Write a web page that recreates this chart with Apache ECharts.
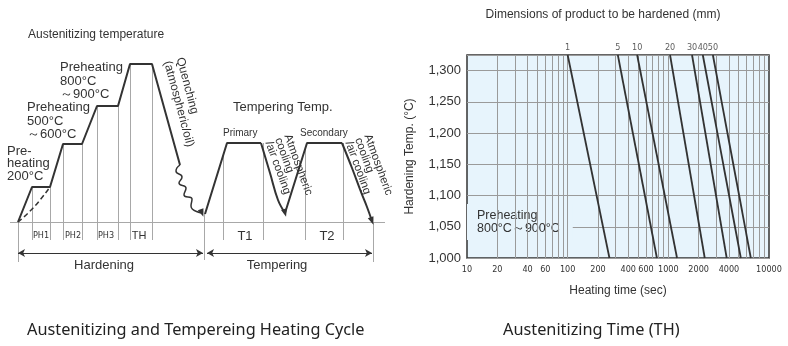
<!DOCTYPE html>
<html>
<head>
<meta charset="utf-8">
<script src="https://cdn.jsdelivr.net/npm/echarts@6/dist/echarts.min.js"></script>
<style>
html,body{margin:0;padding:0;background:#fff}
#chart{width:788px;height:346px}
</style>
</head>
<body>
<div id="chart"></div>
<script>
// ---------- Heating cycle schematic (left panel) ----------
// Schematic units: x = elapsed time, y = temperature height above room temperature.
const hardeningPath = [[0,0],[14,35],[32,35],[45,78],[64,78],[79,116],[100,116],[112,158],[134,158],[162,57]];
const quenchWave = [[162,57],[158,51],[164,45],[161,39],[168,34],[166,27],[174,23],[173,16],[184,9]];
const slowHeatPath = [[0,0],[16,15],[32,35]];
const primaryHeat = [[187,8],[209,79],[243,79]];
const primaryCooling = [[243,79],[252,49],[260,22],[267,9]];
const secondaryHeat = [[267,9],[289,79],[324,79]];
const secondaryCooling = [[324,79],[334,54],[343,30],[349,15],[354,1]];
// phase boundaries: [time, from level, to level]
const phaseGuides = [[14,35,-18],[32,35,-18],[45,78,-18],[64,78,-18],[79,116,-18],[100,116,-18],
  [112,158,-18],[134,158,-18],[0,0,-40],[186,9,-38],[205,66,-18],[245,79,-18],[287,73,-18],[325,79,-18],[355,0,-40]];
const stageSpans = [[0,185],[189,354]];
const stageLevel = -31;
const baseSpan = [-8,367];

// ---------- Austenitizing time chart (right panel) ----------
const sizes = [1, 5, 10, 20, 30, 40, 50];                       // product dimension, mm
const timeAtTop = [100, 315, 490, 1040, 1720, 2200, 2770];      // sec at 1325 °C
const timeAtBase = [260, 770, 1220, 2300, 3800, 5250, 6600];    // sec at 1000 °C
const tempTop = 1325, tempBase = 1000;
const timeTicks = [10, 20, 40, 60, 100, 200, 400, 600, 1000, 2000, 4000, 10000];
const timeGrid = [20,30,40,50,60,70,80,90,100,200,300,400,500,600,700,800,900,1000,
  2000,3000,4000,5000,6000,7000,8000,9000];

const FONT = '"Liberation Sans", Arial, sans-serif';
const NARROW = '"Liberation Sans Narrow", "DejaVu Sans Condensed", "Liberation Sans", sans-serif';
const INK = '#333';
const PLOT_BG = '#e7f4fc';

function pathSeries(data, extra) {
  return Object.assign({
    type: 'line', xAxisIndex: 0, yAxisIndex: 0, data: data, symbol: 'none',
    lineStyle: { color: INK, width: 2 }, silent: true, z: 5
  }, extra || {});
}
function withArrow(data, rot) {
  const out = data.slice(0, -1);
  out.push({ value: data[data.length - 1], symbol: 'triangle', symbolSize: [6, 8], symbolRotate: rot,
    itemStyle: { color: INK } });
  return out;
}

function txt(text, x, y, size, opts) {
  const o = opts || {};
  const style = {
    text: text, fill: o.color || INK,
    font: (o.weight ? o.weight + ' ' : '') + size + 'px ' + (o.family || FONT),
    align: o.align || 'left', textAlign: o.align || 'left',
    verticalAlign: o.va || 'middle', textVerticalAlign: o.va || 'middle',
    lineHeight: o.lh || size + 1
  };
  if (o.bg) { style.backgroundColor = o.bg; style.padding = o.pad; }
  return { type: 'text', x: x, y: y, rotation: o.rot || 0, z: o.z || 10, style: style };
}

const chart = echarts.init(document.getElementById('chart'), null, { renderer: 'canvas' });

const option = {
  animation: false,
  backgroundColor: '#fff',
  grid: [
    { left: 0, top: 22, width: 390, height: 280, show: false },
    { left: 467, top: 55, width: 302, height: 203, show: true,
      backgroundColor: PLOT_BG, borderColor: INK, borderWidth: 1.5 }
  ],
  xAxis: [
    { type: 'value', gridIndex: 0, min: -18, max: 372, show: false },
    { type: 'log', gridIndex: 1, logBase: 10, min: 10, max: 10000,
      name: 'Heating time (sec)', nameLocation: 'middle', nameGap: 27,
      nameTextStyle: { fontFamily: FONT, fontSize: 12, color: INK },
      axisLine: { show: false }, axisTick: { show: false }, splitLine: { show: false },
      axisLabel: { customValues: timeTicks, fontFamily: NARROW, fontSize: 9, color: INK, margin: 7,
        showMinLabel: true, showMaxLabel: true, formatter: v => String(Math.round(v)) } }
  ],
  yAxis: [
    { type: 'value', gridIndex: 0, min: -80, max: 200, show: false },
    { type: 'value', gridIndex: 1, min: tempBase, max: tempTop, interval: 50,
      name: 'Hardening Temp. (°C)', nameLocation: 'middle', nameGap: 51, nameRotate: 90,
      nameTextStyle: { fontFamily: FONT, fontSize: 12, color: INK },
      axisLine: { show: false }, axisTick: { show: false },
      splitLine: { show: true, lineStyle: { color: '#9a9a9a', width: 1 } },
      axisLabel: { fontFamily: FONT, fontSize: 13, color: INK, margin: 6, showMaxLabel: false,
        formatter: v => v.toLocaleString('en-US') } }
  ],
  series: [
    // phase guide lines, baseline and stage arrows
    { type: 'line', xAxisIndex: 0, yAxisIndex: 0, data: [], silent: true, z: 2,
      markLine: { silent: true, symbol: 'none', label: { show: false },
        lineStyle: { color: '#a8a8a8', width: 1, type: 'solid' },
        data: phaseGuides.map(g => [{ coord: [g[0], g[1]] }, { coord: [g[0], g[2]] }])
          .concat([[{ coord: [baseSpan[0], 0] }, { coord: [baseSpan[1], 0] }]]) } },
    { type: 'line', xAxisIndex: 0, yAxisIndex: 0, data: [], silent: true, z: 3,
      markLine: { silent: true, symbol: ['arrow', 'arrow'], symbolSize: [6, 7], label: { show: false },
        lineStyle: { color: INK, width: 1, type: 'solid' },
        data: stageSpans.map(s => [{ coord: [s[0], stageLevel] }, { coord: [s[1], stageLevel] }]) } },
    pathSeries(hardeningPath),
    pathSeries(withArrow(quenchWave, 200), { smooth: 0.6, lineStyle: { color: INK, width: 1.5 } }),
    pathSeries(slowHeatPath, { smooth: 0.5, lineStyle: { color: INK, width: 1.5, type: [5, 3] } }),
    pathSeries(primaryHeat),
    pathSeries(withArrow(primaryCooling, 195), { smooth: 0.4 }),
    pathSeries(secondaryHeat),
    pathSeries(withArrow(secondaryCooling, 200), { smooth: 0.4 }),

    // log-time minor grid
    { type: 'line', xAxisIndex: 1, yAxisIndex: 1, data: [], silent: true, z: 1,
      markLine: { silent: true, symbol: 'none', label: { show: false },
        lineStyle: { color: '#9a9a9a', width: 1, type: 'solid' },
        data: timeGrid.map(v => ({ xAxis: v })) } },
    // product size labels above each curve
    { type: 'scatter', xAxisIndex: 1, yAxisIndex: 1, silent: true, z: 6, clip: false,
      symbolSize: 1, itemStyle: { color: 'rgba(0,0,0,0)' },
      label: { show: true, position: 'top', distance: 2, formatter: p => String(sizes[p.dataIndex]),
        fontFamily: NARROW, fontSize: 9, color: INK },
      data: timeAtTop.map(t => [t, tempTop]) }
  ].concat(sizes.map((s, i) => ({
    type: 'line', xAxisIndex: 1, yAxisIndex: 1, symbol: 'none', silent: true, z: 5,
    lineStyle: { color: INK, width: 1.8 },
    data: [[timeAtTop[i], tempTop], [timeAtBase[i], tempBase]]
  }))),
  graphic: [
    txt('Dimensions of product to be hardened (mm)', 603, 15, 12, { align: 'center' }),
    txt('Preheating\n800°C～900°C', 467, 222, 12.5, { lh: 13, bg: PLOT_BG, pad: [5, 13, 5, 10], z: 3 }),
    txt('Austenitizing temperature', 28, 35, 12),
    txt('Preheating\n800°C\n～900°C', 60, 61, 13, { va: 'top', lh: 13.5 }),
    txt('Preheating\n500°C\n～600°C', 27, 101, 13, { va: 'top', lh: 13.5 }),
    txt('Pre-\nheating\n200°C', 7, 145, 13, { va: 'top', lh: 12.5 }),
    txt('Quenching\n(atmospheric/oil)', 186, 56, 12, { va: 'top', lh: 13, rot: -75 * Math.PI / 180 }),
    txt('Tempering Temp.', 233, 107, 13),
    txt('Primary', 223, 133, 10),
    txt('Secondary', 300, 133, 10),
    txt('Atmospheric\ncooling\n/air cooling', 292, 133, 11.5, { va: 'top', lh: 10, rot: -70 * Math.PI / 180 }),
    txt('Atmospheric\ncooling\n/air cooling', 372, 133, 11.5, { va: 'top', lh: 10, rot: -70 * Math.PI / 180 }),
    txt('PH1', 41, 236, 9, { align: 'center', family: NARROW }),
    txt('PH2', 73, 236, 9, { align: 'center', family: NARROW }),
    txt('PH3', 106, 236, 9, { align: 'center', family: NARROW }),
    txt('TH', 139, 236, 11, { align: 'center' }),
    txt('T1', 245, 236, 13, { align: 'center' }),
    txt('T2', 327, 236, 13, { align: 'center' }),
    txt('Hardening', 104, 265, 13, { align: 'center' }),
    txt('Tempering', 277, 265, 13, { align: 'center' }),
    txt('Austenitizing and Tempereing Heating Cycle', 27, 330, 16.3, { family: '"Noto Sans", sans-serif', color: '#222' }),
    txt('Austenitizing Time (TH)', 503, 330, 16.3, { family: '"Noto Sans", sans-serif', color: '#222' })
  ]
};

chart.setOption(option);
</script>
</body>
</html>
